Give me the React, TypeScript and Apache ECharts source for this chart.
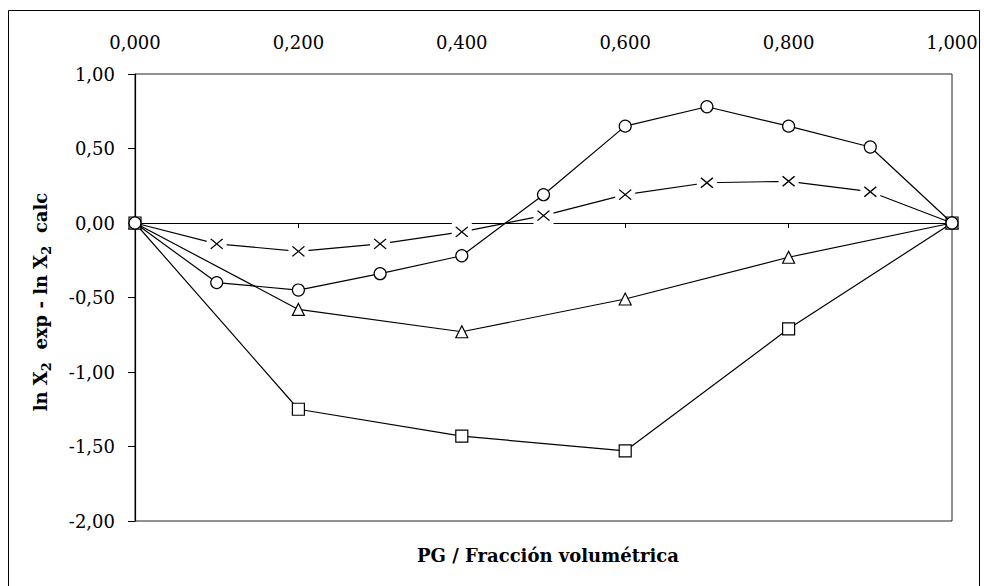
import React, { useEffect, useRef } from "react";
import * as echarts from "echarts";

const xFull = [0, 0.1, 0.2, 0.3, 0.4, 0.5, 0.6, 0.7, 0.8, 0.9, 1.0];
const circleVals = [0, -0.4, -0.45, -0.34, -0.22, 0.19, 0.65, 0.78, 0.65, 0.51, 0];
const crossVals = [0, -0.14, -0.19, -0.14, -0.06, 0.05, 0.19, 0.27, 0.28, 0.21, 0];
const xHalf = [0, 0.2, 0.4, 0.6, 0.8, 1.0];
const triangleVals = [0, -0.58, -0.73, -0.51, -0.23, 0];
const squareVals = [0, -1.25, -1.43, -1.53, -0.71, 0];

const FONT = "DejaVu Serif";

export default function App() {
  const ref = useRef<HTMLDivElement>(null);
  useEffect(() => {
    document.body.style.margin = "0";
    const chart = echarts.init(ref.current!, undefined, { renderer: "svg" });
    const pair = (xs: number[], ys: number[]) => xs.map((x, i) => [x, ys[i]]);
    const crossInner = pair(xFull, crossVals).slice(1, -1);
    const lineBase = {
      type: "line",
      xAxisIndex: 0,
      lineStyle: { color: "#000", width: 1.2 },
      itemStyle: { color: "#fff", borderColor: "#000", borderWidth: 1.2, opacity: 1 },
      showAllSymbol: true,
      silent: true,
    };
    chart.setOption({
      animation: false,
      textStyle: { fontFamily: FONT },
      grid: {
        left: 135,
        top: 74,
        right: 32,
        bottom: 65,
        show: true,
        borderColor: "#222",
        borderWidth: 1,
      },
      xAxis: [
        {
          type: "value",
          min: 0,
          max: 1,
          interval: 0.2,
          position: "bottom",
          axisLine: { onZero: true, lineStyle: { color: "#000", width: 1.2 } },
          axisTick: { show: true, length: 5, lineStyle: { color: "#000" } },
          axisLabel: { show: false },
          splitLine: { show: false },
        },
        {
          type: "value",
          min: 0,
          max: 1,
          interval: 0.2,
          position: "top",
          axisLine: { show: false, onZero: false },
          axisTick: { show: false },
          axisLabel: {
            margin: 23,
            fontFamily: FONT,
            fontSize: 18,
            color: "#000",
            formatter: (v: number) => v.toFixed(3).replace(".", ","),
          },
          splitLine: { show: false },
        },
      ],
      yAxis: {
        type: "value",
        min: -2,
        max: 1,
        interval: 0.5,
        axisLine: { show: true, onZero: false, lineStyle: { color: "#000", width: 1.2 } },
        axisTick: { show: true, length: 7, lineStyle: { color: "#000" } },
        axisLabel: {
          margin: 20,
          fontFamily: FONT,
          fontSize: 18,
          color: "#000",
          formatter: (v: number) => v.toFixed(2).replace(".", ","),
        },
        splitLine: { show: false },
      },
      graphic: [
        {
          type: "rect",
          shape: { x: 8.5, y: 10.5, width: 971, height: 600 },
          style: { fill: "none", stroke: "#000", lineWidth: 1 },
          silent: true,
        },
        {
          type: "text",
          x: 548,
          y: 555,
          style: {
            text: "PG / Fracción volumétrica",
            fontFamily: FONT,
            fontSize: 18,
            fontWeight: "bold",
            fill: "#000",
            align: "center",
            verticalAlign: "middle",
          },
        },
        {
          type: "text",
          x: 40,
          y: 302,
          rotation: Math.PI / 2,
          style: {
            text: "{a|ln X}{s|2}{a|  exp - ln X}{s|2}{a|  calc}",
            align: "center",
            verticalAlign: "middle",
            fill: "#000",
            fontFamily: FONT,
            rich: {
              a: { fontFamily: FONT, fontSize: 18, fontWeight: "bold", fill: "#000", lineHeight: 26, verticalAlign: "middle" },
              s: { fontFamily: FONT, fontSize: 13, fontWeight: "bold", fill: "#000", lineHeight: 10, verticalAlign: "bottom" },
            },
          },
        },
      ],
      series: [
        {
          ...lineBase,
          name: "crossLine",
          z: 2,
          data: pair(xFull, crossVals),
          symbol: "none",
        },
        {
          type: "scatter",
          name: "crossBg",
          z: 3,
          data: crossInner,
          symbol: "rect",
          symbolSize: [20, 18],
          itemStyle: { color: "#fff", opacity: 1 },
          silent: true,
        },
        {
          type: "scatter",
          name: "cross",
          z: 4,
          data: crossInner,
          symbol: "path://M0,0L10,8M10,0L0,8",
          symbolSize: [12, 10],
          itemStyle: { color: "none", borderColor: "#000", borderWidth: 1.3, opacity: 1 },
          silent: true,
        },
        {
          ...lineBase,
          name: "triangle",
          z: 5,
          data: pair(xHalf, triangleVals),
          symbol: "triangle",
          symbolSize: 12,
        },
        {
          ...lineBase,
          name: "square",
          z: 6,
          data: pair(xHalf, squareVals),
          symbol: "rect",
          symbolSize: 12,
        },
        {
          ...lineBase,
          name: "circle",
          z: 7,
          data: pair(xFull, circleVals),
          symbol: "circle",
          symbolSize: 12,
        },
      ],
    });
    return () => chart.dispose();
  }, []);
  return <div ref={ref} style={{ width: 984, height: 586 }} />;
}
